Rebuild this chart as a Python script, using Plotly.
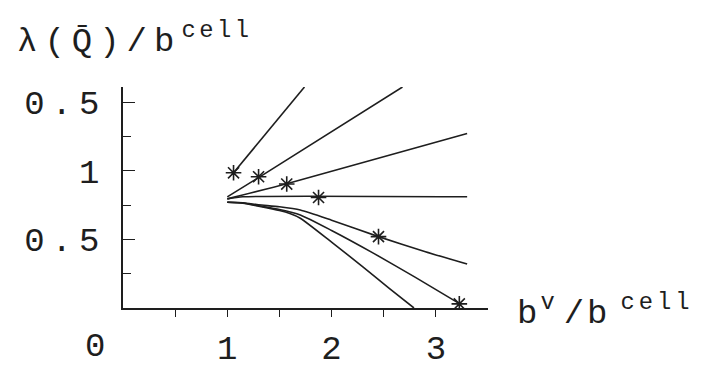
import plotly.graph_objects as go

# curves of lambda(Q)/b_cell against b_v/b_cell
x_c1 = [1.06, 1.74]
y_c1 = [0.985, 1.61]
x_c2 = [1.0, 1.3, 2.68]
y_c2 = [0.81, 0.95, 1.61]
x_c3 = [1.0, 1.57, 3.3]
y_c3 = [0.795, 0.905, 1.272]
x_c4 = [1.0, 1.15, 3.3]
y_c4 = [0.795, 0.81, 0.81]
x_c5 = [1.0, 1.15, 1.3, 1.5, 1.7, 2.0, 2.45, 2.9, 3.3]
y_c5 = [0.77, 0.767, 0.752, 0.737, 0.714, 0.64, 0.52, 0.41, 0.32]
x_c6 = [1.0, 1.15, 1.3, 1.5, 1.7, 2.0, 2.4, 2.8, 3.23]
y_c6 = [0.77, 0.765, 0.745, 0.718, 0.678, 0.565, 0.40, 0.225, 0.03]
x_c7 = [1.0, 1.15, 1.3, 1.5, 1.6, 1.7, 2.0, 2.3, 2.55, 2.79]
y_c7 = [0.77, 0.764, 0.742, 0.71, 0.688, 0.654, 0.48, 0.30, 0.145, 0.0]

star_x = [1.06, 1.30, 1.57, 1.875, 2.45, 3.225]
star_y = [0.985, 0.956, 0.903, 0.805, 0.52, 0.03]

xtick_vals = [0.5, 1, 1.5, 2, 2.5, 3]
xtick_text = ['', '1', '', '2', '', '3']
ytick_vals = [0.5, 1.0, 1.5]
ytick_text = ['0.5', '1', '0.5']
yminor_vals = [0.25, 0.75, 1.25]

INK = '#1e1e1e'
FONT = 'Liberation Mono'
SP = 'letter-spacing:7px'


def spaced(s, sp=SP):
    return f"<span style='{sp}'>{s}</span>"


def sup(s, px):
    return f"<sup style='letter-spacing:{px}px'>{s}</sup>"


fig = go.Figure()
curves = [(x_c1, y_c1), (x_c2, y_c2), (x_c3, y_c3), (x_c4, y_c4),
          (x_c5, y_c5), (x_c6, y_c6), (x_c7, y_c7)]
for xs, ys in curves:
    fig.add_trace(go.Scatter(x=xs, y=ys, mode='lines', line=dict(color=INK, width=1.6),
                             line_shape='spline', line_smoothing=0.6, hoverinfo='skip'))

fig.add_trace(go.Scatter(x=star_x, y=star_y, mode='markers',
                         marker=dict(symbol='asterisk-open', size=13, color=INK,
                                     line=dict(color=INK, width=1.6))))

# the page body adds 8px, so the figure is a bit smaller than the window
fig.update_layout(
    width=693, height=360,
    margin=dict(l=115, r=213, t=79, b=60),
    plot_bgcolor='white', paper_bgcolor='white',
    showlegend=False,
    font=dict(family=FONT, size=34, color=INK),
)
fig.update_xaxes(range=[0, 3.5], showgrid=False, zeroline=False, automargin=False,
                 showline=True, linecolor=INK, linewidth=1.6,
                 tickmode='array', tickvals=xtick_vals, ticktext=xtick_text,
                 ticks='outside', ticklen=7, tickwidth=1.4, tickcolor=INK,
                 ticklabelstandoff=1)
fig.update_yaxes(range=[0, 1.61], showgrid=False, zeroline=False, automargin=False,
                 showline=True, linecolor=INK, linewidth=1.6,
                 tickmode='array', tickvals=ytick_vals,
                 ticktext=[spaced(t) for t in ytick_text],
                 ticks='inside', ticklen=12, tickwidth=1.4, tickcolor=INK,
                 ticklabelstandoff=8,
                 minor=dict(tickvals=yminor_vals, ticks='inside', ticklen=8,
                            tickwidth=1.4, tickcolor=INK))

# lone "0" label sits left of the origin
fig.add_annotation(x=-0.076, y=-0.175, xref='paper', yref='paper', text='0',
                   showarrow=False, font=dict(size=34), xanchor='center', yanchor='middle')
# axis titles
fig.add_annotation(x=-0.297, y=1.216, xref='paper', yref='paper',
                   text=spaced('λ(Q̄)/b') + sup('cell', 3.5),
                   showarrow=False, xanchor='left', yanchor='middle')
fig.add_annotation(x=1.075, y=-0.012, xref='paper', yref='paper',
                   text=spaced('b', 'letter-spacing:3px') + sup('v', 9)
                        + spaced('/', 'letter-spacing:3px') + spaced('b', 'letter-spacing:13px')
                        + sup('cell', 4),
                   showarrow=False, xanchor='left', yanchor='middle')

fig.write_html("out.html")
